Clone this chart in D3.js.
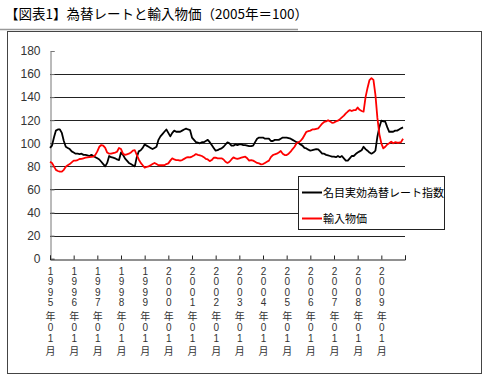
<!DOCTYPE html>
<html><head><meta charset="utf-8">
<script src="https://cdn.jsdelivr.net/npm/d3@7"></script>
<style>
html,body{margin:0;padding:0;background:#fff;}
svg{display:block;}
</style></head>
<body>
<script>
const title = "【図表1】為替レートと輸入物価（2005年＝100）";
const seriesNames = ["名目実効為替レート指数", "輸入物価"];
const seriesColors = ["#000000", "#ff0000"];
const years = ["1995","1996","1997","1998","1999","2000","2001","2002","2003","2004","2005","2006","2007","2008","2009"];
const yTicks = [0,20,40,60,80,100,120,140,160,180];

// monthly values, 1995/01 - 2009/12
const exchangeRate = [
 96, 98, 105, 111, 112, 112, 109, 102, 97, 96, 95, 93,
 92, 91, 91, 90.7, 91, 90, 90, 89.6, 89, 90, 89, 88,
 87, 86, 84, 82, 80, 83, 89, 88, 87.5, 87, 86, 85.5,
 92, 90, 87, 85, 83, 82, 81, 80, 88, 93, 94, 96,
 99, 98, 97, 96, 95, 96, 97, 103, 106, 108, 110, 112,
 109, 106, 109, 111, 110, 110, 110, 111, 112, 112.7, 112, 111.5,
 105, 103, 101, 100.5, 100, 101, 101, 102, 103, 101, 98.5, 96,
 93.6, 94, 95, 95.6, 97, 99, 100.8, 100, 98, 98, 99, 98.5,
 99, 99, 98.5, 98.5, 98, 97.5, 97.6, 98, 101, 104, 105, 105,
 105, 104, 104, 104, 102, 102, 103, 103, 103, 104, 105, 105,
 105, 104.5, 104, 103, 102, 101, 100.5, 99, 98, 96, 95.6, 94.5,
 93.6, 94, 94.5, 95, 94.8, 93, 91, 91, 90, 89.5, 89, 88.4,
 88.4, 88, 89, 88, 89, 87, 85, 85, 87, 89, 89, 90.7,
 92, 93, 94, 97, 95, 93.6, 92, 91, 92, 93.6, 105.7, 114,
 119.6, 119, 118.7, 114, 110, 110, 110, 111, 111, 112, 113, 113.8
];
const importPrice = [
 84, 83, 80, 77, 76, 75.4, 75.4, 77, 79.7, 81, 82, 83.5,
 85, 85, 85.5, 86.4, 86.5, 87, 87.5, 87.8, 88, 88.2, 88.4, 90,
 93, 97, 98.5, 98, 96, 92, 91, 91, 91.5, 92, 92.7, 96,
 95, 91, 90, 90.5, 91, 92, 93.6, 94, 90, 86, 83, 81,
 79, 79.5, 80, 81, 82, 83, 82, 81, 81, 81, 81, 82,
 82.6, 85, 87, 86, 85.5, 85.5, 85, 85.5, 86.5, 87.5, 88, 87.8,
 88.5, 89.5, 90.7, 90, 89.5, 89, 88, 86.5, 86, 84.6, 85.5, 87.5,
 87.5, 87, 87, 87, 86, 84, 83, 84, 86, 87.8, 87, 86.5,
 87, 87.5, 88, 88.4, 87, 85, 85.5, 85, 84, 83, 82.6, 81.8,
 82, 83, 84, 85, 88, 89.8, 90.5, 91, 92, 93.3, 91, 89.8,
 89.8, 91, 92.7, 95, 97, 100, 101, 102, 104, 107, 110, 110.5,
 111, 112, 112, 112.5, 113, 115, 117, 118.5, 119, 120, 119, 117.8,
 118, 119, 119.6, 121, 122.5, 124, 126, 127.5, 128.8, 128, 128.8, 128.8,
 131, 129, 128, 127.4, 140, 148, 154.8, 156.5, 155, 142, 122, 108,
 100, 95.6, 97, 99, 100, 101.4, 100, 101, 100.5, 100.5, 101, 104
];

const W = 490, H = 383;
const svg = d3.select("body").append("svg").attr("width", W).attr("height", H);
const CJK = "'Noto Sans CJK JP', sans-serif";
const LAT = "'Liberation Sans', Arial, sans-serif";

// title
svg.append("text").attr("x", 5).attr("y", 19)
  .attr("font-family", CJK)
  .attr("font-size", 13.5).attr("font-weight", 400).attr("fill", "#000")
  .text(title);
svg.append("line").attr("x1", 0).attr("x2", 298).attr("y1", 29.5).attr("y2", 29.5)
  .attr("stroke", "#999").attr("stroke-width", 1.5);

// outer frame
svg.append("rect").attr("x", 7.5).attr("y", 31.5).attr("width", 474).attr("height", 342)
  .attr("fill", "none").attr("stroke", "#444").attr("stroke-width", 1);

const nMonths = years.length * 12;
const x = d3.scaleLinear().domain([0, nMonths]).range([50, 405]);
const y = d3.scaleLinear().domain([0, 180]).range([258.7, 51]);

// gridlines
svg.append("g").selectAll("line").data(yTicks.filter(t => t > 0 && t < 180)).join("line")
  .attr("x1", x(0)).attr("x2", x(nMonths))
  .attr("y1", d => Math.round(y(d)) + 0.5).attr("y2", d => Math.round(y(d)) + 0.5)
  .attr("stroke", "#222").attr("stroke-width", 1);

// y axis
const yAxis = d3.axisLeft(y).tickValues(yTicks).tickSize(-4).tickPadding(10);
const gy = svg.append("g").attr("transform", "translate(50.5,0)").call(yAxis);
gy.select(".domain").attr("stroke", "#777");
gy.selectAll(".tick line").attr("stroke", "#777");
gy.selectAll(".tick text").attr("font-family", LAT)
  .attr("font-size", 12).attr("fill", "#333");

// x axis
const xAxis = d3.axisBottom(x).tickValues(d3.range(0, nMonths + 1, 12)).tickSize(-4).tickFormat("");
const gx = svg.append("g").attr("transform", "translate(0," + (Math.round(y(0)) + 0.5) + ")").call(xAxis);
gx.select(".domain").attr("stroke", "#222");
gx.selectAll(".tick line").attr("stroke", "#222");

// x labels (vertical stacked) — one text element per label, one tspan per character
const charY = [271, 281.5, 292, 302.5, 316, 327.5, 338, 351.5];
years.forEach((yr, i) => {
  const chars = (yr + "年01月").split("");
  const t = svg.append("text").attr("text-anchor", "middle").attr("fill", "#333")
    .attr("font-family", LAT).attr("font-size", 10);
  chars.forEach((c, j) => {
    const cjk = (c === "年" || c === "月");
    const fs = 10;
    t.append("tspan").attr("x", x(i * 12) + 0.5)
      .attr("y", charY[j] + (cjk ? 0.38 * fs : 0.36 * fs))
      .attr("font-family", cjk ? CJK : LAT)
      .attr("font-size", fs)
      .text(c);
  });
});

// lines
const line = d3.line().x((d, i) => x(i)).y(d => y(d));
[exchangeRate, importPrice].forEach((s, k) => {
  svg.append("path").datum(s).attr("d", line)
    .attr("fill", "none").attr("stroke", seriesColors[k]).attr("stroke-width", 1.8)
    .attr("stroke-linejoin", "round");
});

// legend
const lg = svg.append("g");
lg.append("rect").attr("x", 298.5).attr("y", 176.5).attr("width", 146).attr("height", 53)
  .attr("fill", "#fff").attr("stroke", "#222").attr("stroke-width", 1);
const legY = [192.5, 218.5];
seriesNames.forEach((n, k) => {
  lg.append("line").attr("x1", 302).attr("x2", 322).attr("y1", legY[k]).attr("y2", legY[k])
    .attr("stroke", seriesColors[k]).attr("stroke-width", 2);
  lg.append("text").attr("x", 323).attr("y", legY[k] + 0.38 * 11)
    .attr("font-family", CJK).attr("font-size", 11)
    .attr("fill", "#000").text(n);
});
</script>
</body></html>
